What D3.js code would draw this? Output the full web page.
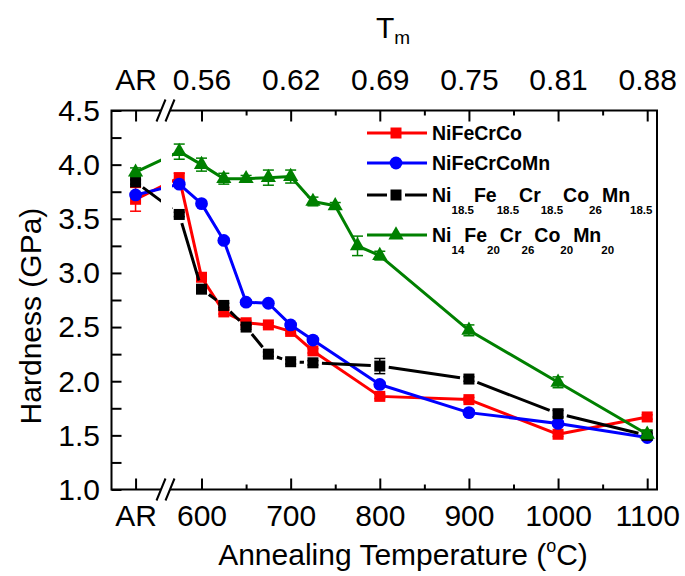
<!DOCTYPE html>
<html>
<head>
<meta charset="utf-8">
<script src="https://cdn.jsdelivr.net/npm/d3@7"></script>
<style>
  html, body { margin: 0; padding: 0; background: #fff; }
  svg { display: block; font-family: "Liberation Sans", Arial, sans-serif; }
</style>
</head>
<body>
<svg id="chart" width="685" height="576"></svg>
<script>
// Annealing temperatures (°C). "AR" is the as-received state, shown left of the axis break.
const tempsBase  = ["AR", 575, 600, 625, 650, 675, 700, 725, 800, 900, 1000, 1100];
const tempsGreen = ["AR", 575, 600, 625, 650, 675, 700, 725, 750, 775, 800, 900, 1000, 1100];

// Hardness (GPa) and error bars for each alloy
const hardNiFeCrCo   = [3.68, 3.88, 2.96, 2.64, 2.54, 2.52, 2.46, 2.28, 1.86, 1.83, 1.51, 1.67];
const errNiFeCrCo    = [0.11, 0.04, 0.02, 0.02, 0.02, 0.02, 0.02, 0.02, 0.02, 0.02, 0.02, 0.02];
const hardNiFeCrCoMn = [3.72, 3.82, 3.64, 3.30, 2.73, 2.72, 2.52, 2.38, 1.97, 1.71, 1.61, 1.48];
const errNiFeCrCoMn  = [0.02, 0.02, 0.02, 0.02, 0.02, 0.02, 0.02, 0.02, 0.02, 0.02, 0.02, 0.02];
const hardCo26       = [3.84, 3.54, 2.85, 2.70, 2.50, 2.25, 2.18, 2.17, 2.14, 2.02, 1.70, 1.50];
const errCo26        = [0.02, 0.02, 0.02, 0.02, 0.02, 0.02, 0.02, 0.02, 0.07, 0.02, 0.03, 0.02];
const hardCr26       = [3.93, 4.12, 4.00, 3.87, 3.87, 3.88, 3.89, 3.66, 3.62, 3.25, 3.16, 2.47, 1.99, 1.51];
const errCr26        = [0.04, 0.07, 0.06, 0.05, 0.03, 0.07, 0.06, 0.04, 0.03, 0.09, 0.04, 0.05, 0.05, 0.04];

// Axis ticks and labels
const majorTemps   = ["AR", 600, 700, 800, 900, 1000, 1100];
const bottomLabels = ["AR", "600", "700", "800", "900", "1000", "1100"];
const topLabels    = ["AR", "0.56", "0.62", "0.69", "0.75", "0.81", "0.88"];
const minorTemps   = [650, 750, 850, 950, 1050];
const hardTicks    = [1.0, 1.5, 2.0, 2.5, 3.0, 3.5, 4.0, 4.5];
const hardMinor    = [1.25, 1.75, 2.25, 2.75, 3.25, 3.75, 4.25];

// Legend names: [base, subscript] pairs
const legendNames = [
  [["NiFeCrCo", ""]],
  [["NiFeCrCoMn", ""]],
  [["Ni", "18.5"], ["Fe", "18.5"], ["Cr", "18.5"], ["Co", "26"], ["Mn", "18.5"]],
  [["Ni", "14"], ["Fe", "20"], ["Cr", "26"], ["Co", "20"], ["Mn", "20"]]
];

const series = [
  { temps: tempsBase,  vals: hardNiFeCrCo,   errs: errNiFeCrCo,   color: "#ff0000", symbol: d3.symbolSquare,   size: 121, gap: false },
  { temps: tempsBase,  vals: hardNiFeCrCoMn, errs: errNiFeCrCoMn, color: "#0000ff", symbol: d3.symbolCircle,   size: 128, gap: false },
  { temps: tempsBase,  vals: hardCo26,       errs: errCo26,       color: "#000000", symbol: d3.symbolSquare,   size: 121, gap: true  },
  { temps: tempsGreen, vals: hardCr26,       errs: errCr26,       color: "#008000", symbol: d3.symbolTriangle, size: 100, gap: false }
];

// ---- layout ----
const L = 111.5, R = 657, T = 110.5, B = 489.5;
const AR_AT = 526;               // axis position used for the as-received samples
const BREAK = [161, 170];        // centre of the two break slashes
const svg = d3.select("#chart");
svg.append("rect").attr("width", 685).attr("height", 576).attr("fill", "#fff");

const x = d3.scaleLinear().domain([499, 1111]).range([L, R]);
const y = d3.scaleLinear().domain([1.0, 4.5]).range([B, T]);
const xt = t => x(t === "AR" ? AR_AT : t);

// ---- axes ----
const FONT = 30;
function styleAxis(g) {
  g.select(".domain").remove();
  g.selectAll(".tick line").attr("stroke", "#000").attr("stroke-width", 2);
  g.selectAll("text").attr("font-size", FONT).attr("fill", "#000")
    .attr("font-family", "'Liberation Sans', Arial, sans-serif");
}

// bottom
const gB = svg.append("g").attr("transform", `translate(0,${B})`)
  .call(d3.axisBottom(x).tickValues(majorTemps.map(t => t === "AR" ? AR_AT : t))
    .tickFormat((d, i) => bottomLabels[i]).tickSize(-11));
styleAxis(gB);
gB.selectAll("text").attr("y", 36).attr("dy", null);
svg.append("g").attr("transform", `translate(0,${B})`)
  .call(d3.axisBottom(x).tickValues(minorTemps).tickFormat("").tickSize(-5)).call(styleAxis);

// top (fraction of melting temperature)
const gT = svg.append("g").attr("transform", `translate(0,${T})`)
  .call(d3.axisTop(x).tickValues(majorTemps.map(t => t === "AR" ? AR_AT : t))
    .tickFormat((d, i) => topLabels[i]).tickSize(-11));
styleAxis(gT);
gT.selectAll("text").attr("y", -20.5).attr("dy", null);
svg.append("g").attr("transform", `translate(0,${T})`)
  .call(d3.axisTop(x).tickValues(minorTemps).tickFormat("").tickSize(-5)).call(styleAxis);

// left
const gL = svg.append("g").attr("transform", `translate(${L},0)`)
  .call(d3.axisLeft(y).tickValues(hardTicks).tickFormat(d3.format(".1f")).tickSize(-10));
styleAxis(gL);
gL.selectAll("text").attr("x", -11.5).attr("dy", "0.33em");
svg.append("g").attr("transform", `translate(${L},0)`)
  .call(d3.axisLeft(y).tickValues(hardMinor).tickFormat("").tickSize(-10)).call(styleAxis);

// ---- frame with axis breaks ----
const frame = d3.path();
frame.moveTo(L, T - 1); frame.lineTo(L, B + 1);
frame.moveTo(R, T - 1); frame.lineTo(R, B + 1);
[T, B].forEach(yy => {
  frame.moveTo(L - 1, yy); frame.lineTo(BREAK[0], yy);
  frame.moveTo(BREAK[1], yy); frame.lineTo(R + 1, yy);
});
svg.append("path").attr("d", frame.toString()).attr("fill", "none")
  .attr("stroke", "#000").attr("stroke-width", 2);

const slashes = d3.path();
[T, B].forEach(yy => BREAK.forEach(cx => {
  slashes.moveTo(cx - 4.5, yy + 11); slashes.lineTo(cx + 4.5, yy - 11);
}));
svg.append("path").attr("d", slashes.toString()).attr("fill", "none")
  .attr("stroke", "#000").attr("stroke-width", 2);

// ---- axis titles ----
svg.append("text").attr("transform", "translate(41,316) rotate(-90)")
  .attr("text-anchor", "middle").attr("font-size", FONT).text("Hardness (GPa)");

const xTitle = svg.append("text").attr("x", 403).attr("y", 565)
  .attr("text-anchor", "middle").attr("font-size", FONT);
xTitle.append("tspan").text("Annealing Temperature (");
xTitle.append("tspan").attr("font-size", 18).attr("dy", -13).text("o");
xTitle.append("tspan").attr("dy", 13).text("C)");

const tm = svg.append("text").attr("x", 376).attr("y", 38).attr("font-size", FONT);
tm.append("tspan").text("T");
tm.append("tspan").attr("font-size", 19).attr("y", 44).text("m");

// ---- data ----
const clip = svg.append("clipPath").attr("id", "breakClip");
clip.append("rect").attr("x", L).attr("y", 0).attr("width", BREAK[0] - L).attr("height", 576);
clip.append("rect").attr("x", BREAK[1] + 2).attr("y", 0).attr("width", R - BREAK[1] - 2).attr("height", 576);

const lineGen = d3.line().x(d => xt(d.t)).y(d => y(d.v));

series.forEach(s => {
  const pts = s.temps.map((t, i) => ({ t, v: s.vals[i], e: s.errs[i] }));
  const g = svg.append("g");

  if (s.gap) {
    // line segments stop short of each symbol
    const segs = d3.path();
    const gap = 9;
    for (let i = 0; i < pts.length - 1; i++) {
      const x0 = xt(pts[i].t), y0 = y(pts[i].v), x1 = xt(pts[i + 1].t), y1 = y(pts[i + 1].v);
      const len = Math.hypot(x1 - x0, y1 - y0);
      if (len <= 2 * gap) continue;
      const ux = (x1 - x0) / len, uy = (y1 - y0) / len;
      segs.moveTo(x0 + ux * gap, y0 + uy * gap);
      segs.lineTo(x1 - ux * gap, y1 - uy * gap);
    }
    g.append("path").attr("d", segs.toString()).attr("clip-path", "url(#breakClip)")
      .attr("fill", "none").attr("stroke", s.color).attr("stroke-width", 3);
  } else {
    g.append("path").datum(pts).attr("d", lineGen).attr("clip-path", "url(#breakClip)")
      .attr("fill", "none").attr("stroke", s.color).attr("stroke-width", 3)
      .attr("stroke-linejoin", "round");
  }

  // error bars
  const eb = g.append("g").attr("stroke", s.color).attr("stroke-width", 1.5);
  pts.forEach(p => {
    const cx = xt(p.t), ylo = y(p.v - p.e), yhi = y(p.v + p.e);
    eb.append("line").attr("x1", cx).attr("x2", cx).attr("y1", ylo).attr("y2", yhi);
    [ylo, yhi].forEach(yy => eb.append("line").attr("x1", cx - 5.5).attr("x2", cx + 5.5)
      .attr("y1", yy).attr("y2", yy));
  });

  // symbols
  g.selectAll("path.sym").data(pts).join("path").attr("class", "sym")
    .attr("transform", p => `translate(${xt(p.t)},${y(p.v)})`)
    .attr("d", d3.symbol().type(s.symbol).size(s.size)())
    .attr("fill", s.color);
});

// ---- legend ----
const legendRows = [133, 163, 195, 235];
const lg = svg.append("g");
series.forEach((s, i) => {
  const ly = legendRows[i];
  if (s.gap) {
    lg.append("line").attr("x1", 367).attr("x2", 387).attr("y1", ly).attr("y2", ly)
      .attr("stroke", s.color).attr("stroke-width", 3);
    lg.append("line").attr("x1", 405).attr("x2", 427).attr("y1", ly).attr("y2", ly)
      .attr("stroke", s.color).attr("stroke-width", 3);
  } else {
    lg.append("line").attr("x1", 367).attr("x2", 427).attr("y1", ly).attr("y2", ly)
      .attr("stroke", s.color).attr("stroke-width", 3);
  }
  lg.append("path").attr("transform", `translate(396,${ly})`)
    .attr("d", d3.symbol().type(s.symbol).size(s.size)()).attr("fill", s.color);

  const txt = lg.append("text").attr("x", 432).attr("y", ly + 7)
    .attr("font-size", 19.5).attr("font-weight", "bold");
  legendNames[i].forEach(([base, sub]) => {
    txt.append("tspan").attr("y", ly + 7).text(base);
    if (sub) txt.append("tspan").attr("y", ly + 19).attr("font-size", 11.5).text(sub);
  });
});
</script>
</body>
</html>
